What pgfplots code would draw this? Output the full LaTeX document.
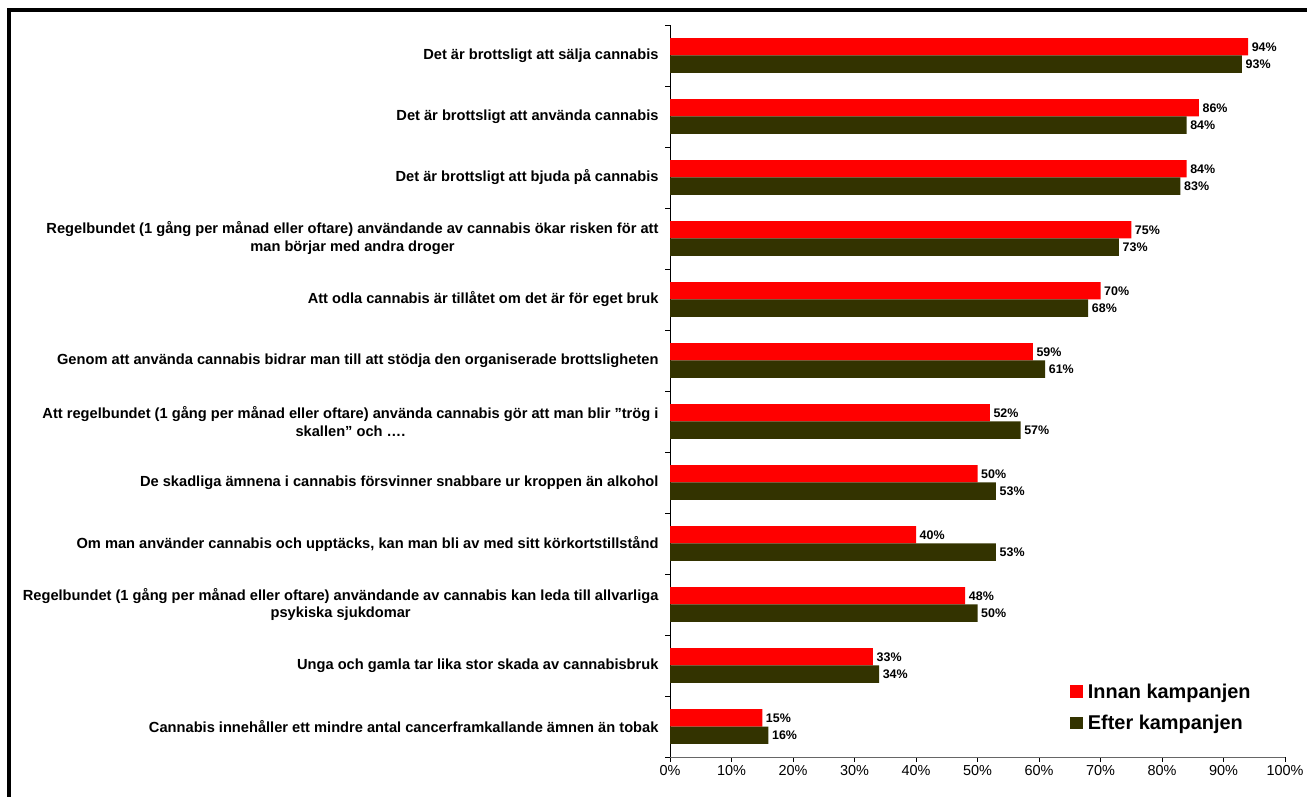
\documentclass[border=0pt]{standalone}
\usepackage{fontspec}
\setmainfont{Liberation Sans}
\usepackage{pgfplots}
\pgfplotsset{compat=1.18}
\definecolor{innan}{HTML}{FF0000}
\definecolor{efter}{HTML}{333300}
\begin{document}
\begin{tikzpicture}[x=1bp,y=1bp]
\path[use as bounding box] (0,0) rectangle (1307,796);
\draw[line width=4bp] (9,-2) -- (9,786) -- (1310,786);
\begin{axis}[
  at={(670bp,39bp)}, anchor=south west,
  scale only axis, width=615bp, height=732bp,
  xbar, bar width=17.3bp,
  xmin=0, xmax=100, ymin=-0.5, ymax=11.5,
  axis x line*=bottom, axis y line*=left,
  x axis line style={black!60},
  y axis line style={black},
  xtick={0,10,...,100},
  xticklabel={\pgfmathprintnumber{\tick}\%},
  /pgf/number format/assume math mode=true,
  xticklabel style={font=\fontsize{14.5}{16}\selectfont},
  ytick={0,...,11},
  minor ytick={-0.5,0.5,...,11.5},
  tick align=outside, major tick length=5bp, minor tick length=5bp,
  major y tick style={draw=none},
  minor y tick style={black, thin},
  x tick style={black, thin},
  yticklabels={
    {Cannabis innehåller ett mindre antal cancerframkallande ämnen än tobak},
    {Unga och gamla tar lika stor skada av cannabisbruk},
    {Regelbundet (1 gång per månad eller oftare) användande av cannabis kan leda till allvarliga\\psykiska sjukdomar},
    {Om man använder cannabis och upptäcks, kan man bli av med sitt körkortstillstånd},
    {De skadliga ämnena i cannabis försvinner snabbare ur kroppen än alkohol},
    {Att regelbundet (1 gång per månad eller oftare) använda cannabis gör att man blir ”trög i\\skallen” och ….},
    {Genom att använda cannabis bidrar man till att stödja den organiserade brottsligheten},
    {Att odla cannabis är tillåtet om det är för eget bruk},
    {Regelbundet (1 gång per månad eller oftare) användande av cannabis ökar risken för att\\man börjar med andra droger},
    {Det är brottsligt att bjuda på cannabis},
    {Det är brottsligt att använda cannabis},
    {Det är brottsligt att sälja cannabis}},
  yticklabel style={align=center, font=\bfseries\fontsize{14.7}{18}\selectfont, xshift=-3bp},
  point meta=x,
  nodes near coords={\pgfmathprintnumber{\pgfplotspointmeta}\%},
  nodes near coords style={font=\bfseries\fontsize{12.5}{12.5}\selectfont, anchor=west, inner sep=1bp, xshift=2.5bp, text=black},
  legend style={at={(rel axis cs:0.645,0.106)}, anchor=north west, draw=none, fill=none,
    font=\bfseries\fontsize{20}{21}\selectfont, row sep=12bp,
    /tikz/every odd column/.append style={column sep=3bp}},
  legend cell align=left,
  legend image code/.code={\fill[#1,draw=none] (0bp,-6bp) rectangle (13bp,6.5bp);},
]
\addplot[xbar, fill=innan, draw=none, bar shift=8.65bp] coordinates {(94,11) (86,10) (84,9) (75,8) (70,7) (59,6) (52,5) (50,4) (40,3) (48,2) (33,1) (15,0)};
\addlegendentry{Innan kampanjen}
\addplot[xbar, fill=efter, draw=none, bar shift=-8.65bp] coordinates {(93,11) (84,10) (83,9) (73,8) (68,7) (61,6) (57,5) (53,4) (53,3) (50,2) (34,1) (16,0)};
\addlegendentry{Efter kampanjen}
\end{axis}
\end{tikzpicture}
\end{document}
